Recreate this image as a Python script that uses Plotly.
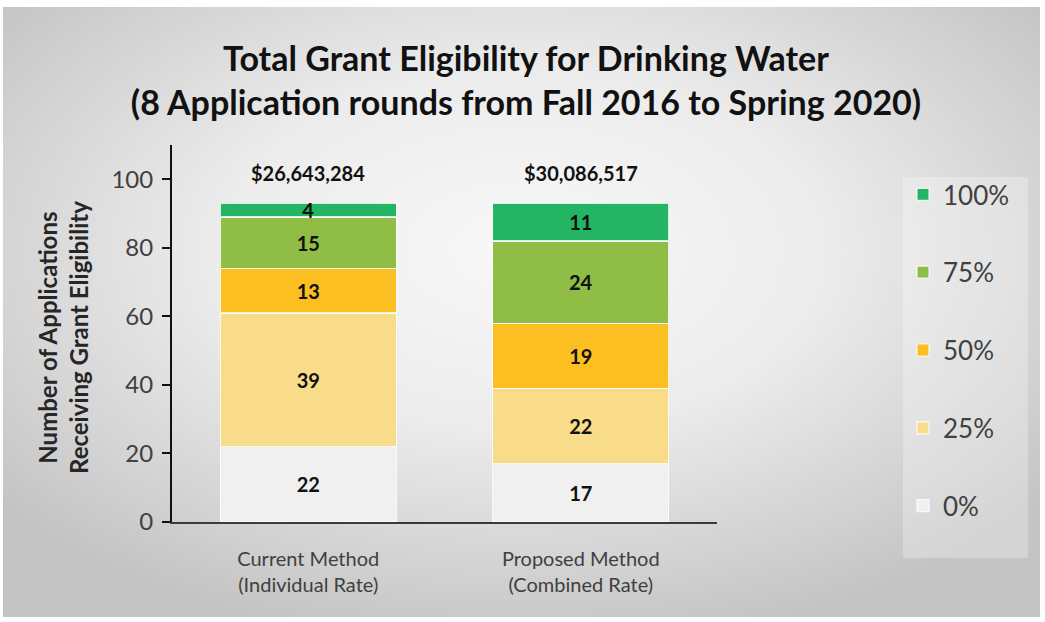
import base64
import plotly.graph_objects as go

# ---- data ----
categories = ["Current Method<br>(Individual Rate)", "Proposed Method<br>(Combined Rate)"]
levels = ["0%", "25%", "50%", "75%", "100%"]
counts = {
    "0%":   [22, 17],
    "25%":  [39, 22],
    "50%":  [13, 19],
    "75%":  [15, 24],
    "100%": [4, 11],
}
totals_text = ["$26,643,284", "$30,086,517"]
y_ticks = [0, 20, 40, 60, 80, 100]

# ---- styles ----
colors = {
    "0%": "#f0f0f0",
    "25%": "#f9dc8a",
    "50%": "#fbbf22",
    "75%": "#8fbd45",
    "100%": "#24b564",
}
W, H = 1045, 622
L, R, T, B = 172, 717, 145, 522  # plot area in pixels
pw, ph = R - L, B - T

def px_x(x):
    return (x - L) / pw

def px_y(y):
    return (B - y) / ph

FONT = "Lato"
TXT = "#404040"

fig = go.Figure()
n = len(levels)
for k, lv in enumerate(levels):
    fig.add_trace(go.Bar(
        name=lv,
        x=categories,
        y=counts[lv],
        marker=dict(color=colors[lv], line=dict(color="rgba(255,255,255,0.8)", width=1.2)),
        text=counts[lv],
        texttemplate="<b>%{text}</b>",
        textposition="inside",
        insidetextanchor="middle",
        constraintext="none",
        textangle=0,
        textfont=dict(family=FONT, size=20, color="#111111"),
        legendgroup=lv,
        legendrank=n - k,
        width=0.645,
        cliponaxis=False,
    ))

# totals above stacks
stack_tops = [sum(counts[lv][i] for lv in levels) for i in range(len(categories))]
annotations = []
for i, cat in enumerate(categories):
    annotations.append(dict(
        x=cat, y=stack_tops[i], xref="x", yref="y",
        text=f"<b>{totals_text[i]}</b>", showarrow=False,
        yanchor="bottom", yshift=16,
        font=dict(family=FONT, size=20, color="#111111"),
    ))

# y axis title
annotations.append(dict(
    x=px_x(63), y=px_y(338), xref="paper", yref="paper",
    xanchor="center", yanchor="middle",
    text="<b>Number of Applications<br>Receiving Grant Eligibility</b>",
    textangle=-90, showarrow=False,
    font=dict(family=FONT, size=24, color="#262626"),
))

# gradient background
svg = ('<svg xmlns="http://www.w3.org/2000/svg" width="1037" height="610" '
       'viewBox="0 0 1037 610" preserveAspectRatio="none"><defs>'
       '<radialGradient id="g" cx="50%" cy="40%" r="65%">'
       '<stop offset="0" stop-color="#f8f8f8"/><stop offset="0.45" stop-color="#ececec"/>'
       '<stop offset="1" stop-color="#c4c4c4"/></radialGradient></defs>'
       '<rect width="1037" height="610" fill="url(#g)"/></svg>')
src = "data:image/svg+xml;base64," + base64.b64encode(svg.encode()).decode()

fig.update_layout(
    width=W, height=H,
    margin=dict(l=L, r=W - R, t=T, b=H - B),
    barmode="stack",
    paper_bgcolor="white",
    plot_bgcolor="rgba(0,0,0,0)",
    font=dict(family=FONT, color=TXT),
    title=dict(
        text="<b>Total Grant Eligibility for Drinking Water<br>(8 Application rounds from Fall 2016 to Spring 2020)</b>",
        x=526 / W, xanchor="center", xref="container",
        y=1 - 71 / H, yanchor="middle", yref="container",
        font=dict(family=FONT, size=34, color="#111111"),
    ),
    images=[dict(
        source=src, xref="paper", yref="paper",
        x=px_x(3), y=px_y(7), sizex=1037 / pw, sizey=610 / ph,
        xanchor="left", yanchor="top", sizing="stretch", layer="below",
    )],
    shapes=[dict(
        type="rect", xref="paper", yref="paper",
        x0=px_x(903), x1=px_x(1028), y0=px_y(558), y1=px_y(177),
        fillcolor="rgba(255,255,255,0.28)", line=dict(width=0), layer="below",
    )],
    legend=dict(
        x=px_x(903), y=px_y(171), xanchor="left", yanchor="top",
        traceorder="grouped", tracegroupgap=41,
        bgcolor="rgba(0,0,0,0)",
        font=dict(family=FONT, size=26, color=TXT),
        itemwidth=30,
    ),
    annotations=annotations,
    xaxis=dict(
        showline=True, linecolor="#3a3a3a", linewidth=2,
        ticks="", tickfont=dict(family=FONT, size=20, color=TXT),
        ticklabelstandoff=18,
        showgrid=False,
    ),
    yaxis=dict(
        range=[0, 110], tickvals=y_ticks,
        showline=True, linecolor="#111111", linewidth=2,
        ticks="outside", ticklen=8, tickwidth=2, tickcolor="#111111",
        tickfont=dict(family=FONT, size=24, color=TXT),
        ticklabelstandoff=4,
        showgrid=False, zeroline=False,
    ),
)

fig.write_html("out.html")
